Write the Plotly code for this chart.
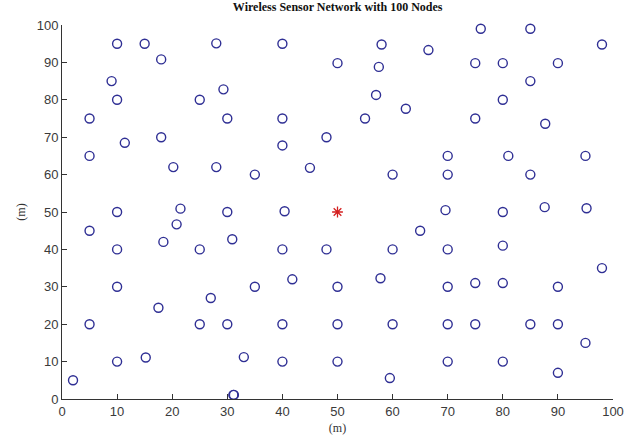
import plotly.graph_objects as go

# Sensor node positions (m)
node_x = [10, 15, 28, 40, 58, 76, 85, 98, 66.5, 50, 57.5, 75, 80, 90, 18, 9, 85, 10, 29.3, 25,
          80, 57, 62.4, 5, 30, 40, 55, 75, 87.7, 18, 48, 11.4, 40, 5, 70, 81, 95, 20.2, 28, 45,
          35, 60, 70, 85, 10, 21.5, 30, 40.4, 69.6, 80, 87.6, 95.2, 5, 20.8, 65, 18.4, 30.9, 10, 25, 40,
          48, 60, 70, 80, 98, 41.8, 57.8, 10, 35, 50, 70, 75, 80, 90, 27, 17.5, 5, 25, 30, 40,
          50, 60, 70, 75, 85, 90, 95, 15.2, 33, 10, 40, 50, 70, 80, 90, 59.5, 2, 31.2, 31.1]
node_y = [95, 95, 95.1, 95, 94.8, 99, 99, 94.8, 93.3, 89.8, 88.8, 89.8, 89.8, 89.8, 90.8, 85, 85, 80, 82.8, 80,
          80, 81.3, 77.6, 75, 75, 75, 75, 75, 73.6, 70, 70, 68.5, 67.8, 65, 65, 65, 65, 62, 62, 61.8,
          60, 60, 60, 60, 50, 50.9, 50, 50.2, 50.5, 50, 51.3, 51, 45, 46.7, 45, 42, 42.7, 40, 40, 40,
          40, 40, 40, 41, 35, 32, 32.3, 30, 30, 30, 30, 31, 31, 30, 27, 24.4, 20, 20, 20, 20,
          20, 20, 20, 20, 20, 20, 15, 11.1, 11.2, 10, 10, 10, 10, 10, 7, 5.6, 5, 1.1, 1.1]

# Sink / base station
sink_x = [50]
sink_y = [50]

tick_vals = list(range(0, 101, 10))

fig = go.Figure()
fig.add_trace(go.Scatter(
    x=node_x, y=node_y, mode="markers",
    marker=dict(symbol="circle-open", size=9, color="#2f2f94", line=dict(width=1.4, color="#2f2f94")),
    showlegend=False, hoverinfo="x+y", cliponaxis=False,
))
fig.add_trace(go.Scatter(
    x=sink_x, y=sink_y, mode="markers",
    marker=dict(symbol="asterisk-open", size=9, color="#d42020", line=dict(width=1.3, color="#d42020")),
    showlegend=False, hoverinfo="x+y",
))

axis_common = dict(
    range=[0, 100], tickvals=tick_vals, ticks="inside", ticklen=5, tickwidth=1,
    tickcolor="#333333", showline=True, linecolor="#333333", linewidth=1,
    showgrid=False, zeroline=False, mirror=False, automargin=False,
    tickfont=dict(family="Liberation Sans, Arial, sans-serif", size=13, color="#3a3a3a"),
)

fig.update_layout(
    width=630, height=443,
    margin=dict(l=62, r=17, t=25, b=44),
    paper_bgcolor="white", plot_bgcolor="white",
    title=dict(text="<b>Wireless Sensor Network with 100 Nodes</b>",
               font=dict(family="Liberation Serif, Times New Roman, serif", size=12, color="#111111"),
               x=0.536, xanchor="center", y=0.995, yanchor="top"),
    xaxis=dict(axis_common, title=dict(text="(m)", standoff=6,
               font=dict(family="Liberation Serif, Times New Roman, serif", size=12, color="#333333"))),
    yaxis=dict(axis_common, title=dict(text="(m)", standoff=8,
               font=dict(family="Liberation Serif, Times New Roman, serif", size=12, color="#333333"))),
)

fig.write_html("out.html")
